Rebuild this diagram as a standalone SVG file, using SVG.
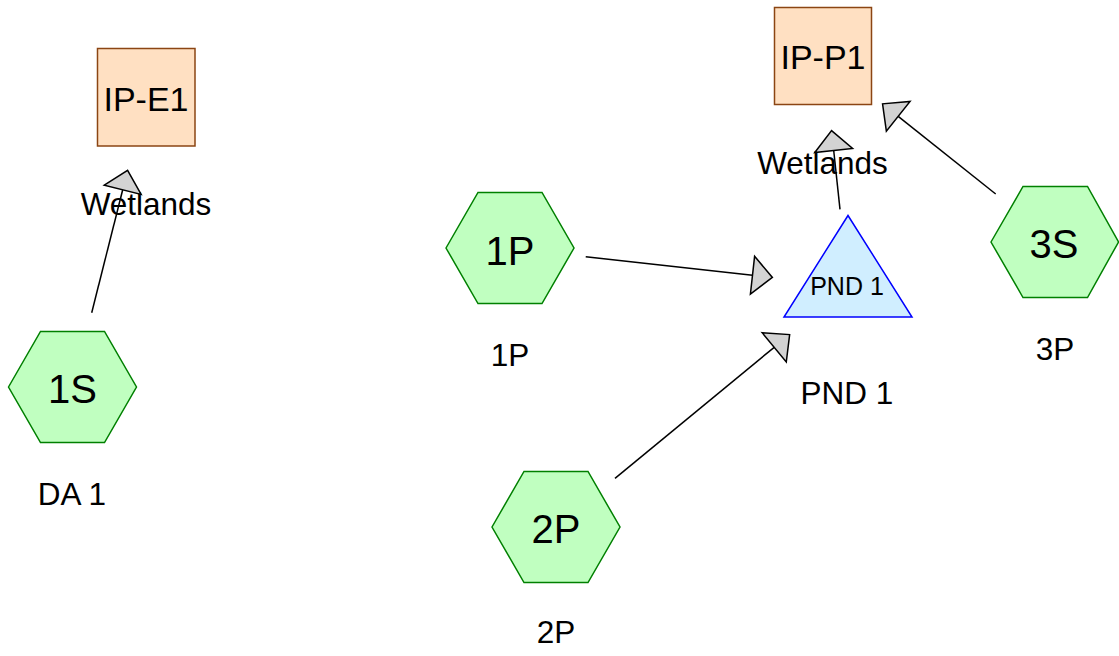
<svg xmlns="http://www.w3.org/2000/svg" width="1119" height="656" viewBox="0 0 1119 656">
<style>
text{font-family:"Liberation Sans",Arial,sans-serif;text-anchor:middle;fill:#000}
.hex{fill:#c0ffc0;stroke:#008000;stroke-width:1.5}
.box{fill:#ffe0c2;stroke:#8b4513;stroke-width:1.5}
.tri{fill:#d0eeff;stroke:#0000ff;stroke-width:1.5}
.big{font-size:40px}
.boxt{font-size:34px}
.lab{font-size:31.5px}
.small{font-size:25px}
.edge{stroke:#000;stroke-width:1.5;fill:none;marker-end:url(#arr)}
</style>
<defs>
<marker id="arr" markerUnits="userSpaceOnUse" viewBox="-2 -21 24 42" markerWidth="24" markerHeight="42" refX="0" refY="0" orient="auto" overflow="visible">
<path d="M0,-19 L20,0 L0,19 Z" fill="#d3d3d3" stroke="#000" stroke-width="1.5"/>
</marker>
</defs>
<rect width="1119" height="656" fill="#fff"/>
<g id="IP-E1"><rect class="box" x="97.5" y="48.5" width="97.5" height="97.5"/><text class="boxt" x="146" y="111">IP-E1</text></g>
<g id="IP-P1"><rect class="box" x="774.5" y="7.5" width="97" height="97"/><text class="boxt" x="823" y="69">IP-P1</text></g>
<g id="1S"><polygon class="hex" points="8.5,387 40.5,331.5 104.5,331.5 136.5,387 104.5,442.5 40.5,442.5"/><text class="big" x="72.5" y="403">1S</text><text class="lab" x="72" y="505">DA 1</text></g>
<g id="1P"><polygon class="hex" points="446,248 478,192.5 542,192.5 574,248 542,303.5 478,303.5"/><text class="big" x="510" y="265">1P</text><text class="lab" x="510" y="366">1P</text></g>
<g id="2P"><polygon class="hex" points="492,527 524,471.5 588,471.5 620,527 588,582.5 524,582.5"/><text class="big" x="556" y="543">2P</text><text class="lab" x="556" y="643">2P</text></g>
<g id="3S"><polygon class="hex" points="991,242 1023,186.5 1087.5,186.5 1118.5,242 1087.5,297.5 1023,297.5"/><text class="big" x="1054" y="258">3S</text><text class="lab" x="1055" y="360">3P</text></g>
<g id="PND1"><polygon class="tri" points="848,215.5 784,317 912,317"/><text class="small" x="847" y="295">PND 1</text><text class="lab" x="847" y="404">PND 1</text></g>
<g id="connectors">
<text class="lab" x="146" y="215">Wetlands</text>
<text class="lab" x="822.5" y="174">Wetlands</text>
<line class="edge" x1="91.7" y1="312.7" x2="122.7" y2="189.8"/>
<line class="edge" x1="585.7" y1="256.7" x2="752.5" y2="275.2"/>
<line class="edge" x1="615" y1="478.3" x2="774.2" y2="347.3"/>
<line class="edge" x1="840" y1="209.3" x2="833.7" y2="150.5"/>
<line class="edge" x1="995.7" y1="194" x2="898.2" y2="116.3"/>
</g>
</svg>
